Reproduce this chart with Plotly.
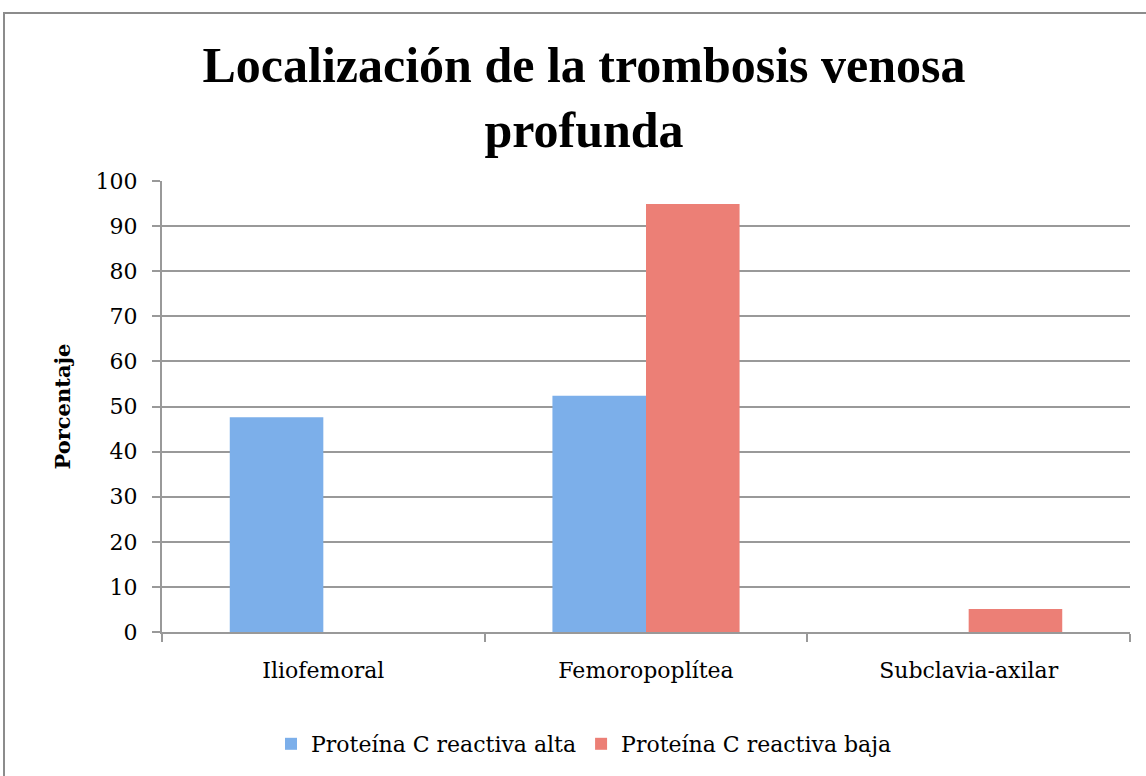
import plotly.graph_objects as go

categories = ["Iliofemoral", "Femoropoplítea", "Subclavia-axilar"]
series_names = ["Proteína C reactiva alta", "Proteína C reactiva baja"]
alta_values = [47.6, 52.4, 0]
baja_values = [0, 94.9, 5.1]
y_ticks = [0, 10, 20, 30, 40, 50, 60, 70, 80, 90, 100]

W, H = 1146, 776
ML, MR, MT, MB = 162, 16, 181, 144
PW, PH = W - ML - MR, H - MT - MB

FONT = "DejaVu Serif"
TITLE_FONT = "Liberation Serif"

fig = go.Figure()
fig.add_trace(go.Bar(x=categories, y=alta_values, name=series_names[0],
                     marker=dict(color="#7cafea", line=dict(width=0))))
fig.add_trace(go.Bar(x=categories, y=baja_values, name=series_names[1],
                     marker=dict(color="#ec7f76", line=dict(width=0))))

fig.update_layout(
    width=W, height=H,
    margin=dict(l=ML, r=MR, t=MT, b=MB, autoexpand=False),
    paper_bgcolor="white", plot_bgcolor="white",
    barmode="group", bargap=0.42, bargroupgap=0,
    font=dict(family=FONT, size=22, color="black"),
    title=dict(text="<b>Localización de la trombosis venosa<br>profunda</b>",
               x=584 / W, xanchor="center", y=1 - 82 / H, yanchor="middle",
               font=dict(family=TITLE_FONT, size=50, color="black")),
    showlegend=True,
    legend=dict(orientation="h", x=(584 - ML) / PW, xanchor="center",
                y=(632 - 744) / PH, yanchor="middle",
                font=dict(family=FONT, size=22), itemwidth=30,
                bgcolor="rgba(0,0,0,0)"),
    xaxis=dict(showline=True, linecolor="#999999", linewidth=2,
               ticks="outside", tickson="boundaries", ticklen=8,
               tickcolor="#999999", tickwidth=2, ticklabelstandoff=18,
               showgrid=False, tickfont=dict(family=FONT, size=22)),
    yaxis=dict(range=[0, 100], tickvals=y_ticks, showline=True,
               linecolor="#999999", linewidth=2, ticks="outside", ticklen=8,
               tickcolor="#999999", tickwidth=2, ticklabelstandoff=10,
               showgrid=True, gridcolor="#999999", gridwidth=2, zeroline=False,
               tickfont=dict(family=FONT, size=22)),
)

fig.add_annotation(text="<b>Porcentaje</b>", textangle=-90,
                   xref="paper", yref="paper",
                   x=(62 - ML) / PW, y=0.5, xanchor="center", yanchor="middle",
                   showarrow=False, font=dict(family=FONT, size=21, color="black"))

fig.add_shape(type="rect", xref="paper", yref="paper",
              x0=(4 - ML) / PW, x1=(W + 20 - ML) / PW,
              y0=-(800 - (H - MB)) / PH,
              y1=((H - MB) - 13) / PH,
              line=dict(color="#8c8c8c", width=2), fillcolor="rgba(0,0,0,0)",
              layer="below")

fig.write_html("out.html", config={"displayModeBar": False},
               post_script="document.body.style.margin='0';document.body.style.padding='0';")
